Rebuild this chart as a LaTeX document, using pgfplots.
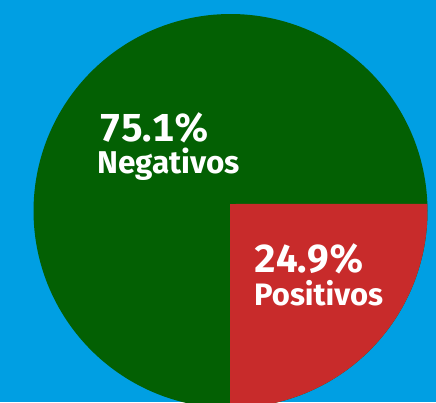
\documentclass[border=0pt]{standalone}
\usepackage{pgfplots}
\pgfplotsset{compat=1.18}
\usepackage{fontspec}
\setmainfont{Fira Sans}
\definecolor{bgblue}{RGB}{0,159,227}
\definecolor{pgreen}{RGB}{3,96,3}
\definecolor{pred}{RGB}{200,43,43}
\begin{document}
\begin{tikzpicture}
\def\neg{75.1}
\def\pos{24.9}
\begin{axis}[
  width=436pt, height=402pt, scale only axis,
  xmin=0, xmax=436, ymin=0, ymax=402,
  axis lines=none, ticks=none,
  axis background/.style={fill=bgblue},
  clip=true,
]
% Negativos slice (drawn as full disk, positivos on top)
\addplot[draw=none, fill=pgreen, domain=0:360, samples=240, variable=\t]
  ({230.5+197*cos(t)},{191+197*sin(t)}) -- cycle;
% Positivos slice
\addplot[draw=none, fill=pred, domain=-90:2.04, samples=120, variable=\t]
  ({230.5+197*cos(t)},{191+197*sin(t)}) -- (axis cs:230,198) -- (axis cs:230,-6) -- cycle;
\node[anchor=base west, text=white, inner sep=0pt, font=\bfseries\fontsize{39}{39}\selectfont\addfontfeatures{Numbers=Monospaced}] at (axis cs:99,260) {\neg\%};
\node[anchor=base west, text=white, inner sep=0pt, font=\bfseries\fontsize{31.5}{31.5}\selectfont] at (axis cs:97,228) {Negativos};
\node[anchor=base west, text=white, inner sep=0pt, font=\bfseries\fontsize{39}{39}\selectfont\addfontfeatures{Numbers=Monospaced}] at (axis cs:254,130) {\pos\%};
\node[anchor=base west, text=white, inner sep=0pt, font=\bfseries\fontsize{31}{31}\selectfont] at (axis cs:254,97) {Positivos};
\end{axis}
\end{tikzpicture}
\end{document}
